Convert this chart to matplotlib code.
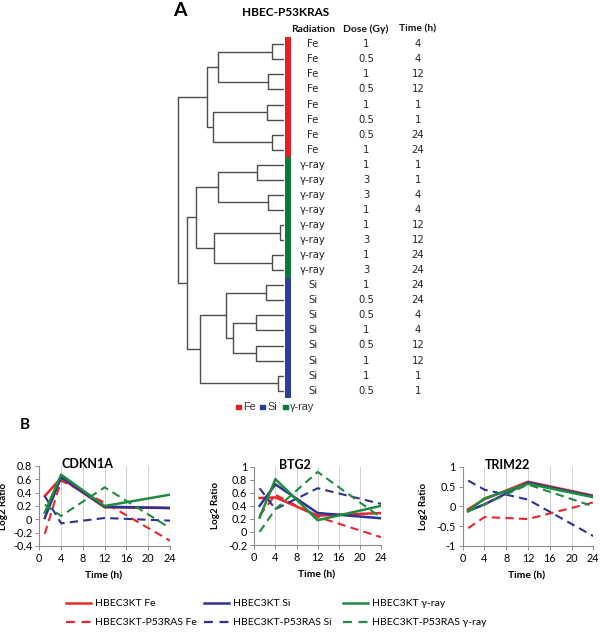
import matplotlib
matplotlib.use("Agg")
import matplotlib.pyplot as plt
from matplotlib.lines import Line2D
from matplotlib.patches import Rectangle
from matplotlib.transforms import blended_transform_factory

# ---------------- Panel A data ----------------
leaf_radiation = ['Fe'] * 8 + ['γ-ray'] * 8 + ['Si'] * 8
leaf_dose = ['1', '0.5', '1', '0.5', '1', '0.5', '0.5', '1',
             '1', '3', '3', '1', '1', '3', '1', '3',
             '1', '0.5', '0.5', '1', '0.5', '1', '1', '0.5']
leaf_time = ['4', '4', '12', '12', '1', '1', '24', '24',
             '1', '1', '4', '4', '12', '12', '24', '24',
             '24', '24', '4', '4', '12', '12', '1', '1']
# linkage: (left id, right id, merge height); ids >= 24 are earlier merges
link_left = [0, 2, 24, 4, 6, 27, 26, 8, 10, 31, 12, 14, 34, 33, 16, 18, 20, 39, 38, 22, 42, 37, 30]
link_right = [1, 3, 25, 5, 7, 28, 29, 9, 11, 32, 13, 15, 35, 36, 17, 19, 21, 40, 41, 23, 43, 44, 45]
link_height = [12.3, 16.3, 65.7, 17.3, 11.7, 70.7, 76.7, 27.3, 15.7, 65.7, 4.0, 12.3, 69.7, 88.0,
               18.3, 28.3, 28.3, 50.7, 58.3, 6.3, 84.0, 97.3, 105.7]

rad_colors = {'Fe': '#E31E24', 'Si': '#2E3C9C', 'γ-ray': '#0B7A3E'}
key_labels = ['Fe', 'Si', 'γ-ray']

# ---------------- Panel B data ----------------
times = [1, 4, 12, 24]
genes = ['CDKN1A', 'BTG2', 'TRIM22']
series_labels = ['HBEC3KT Fe', 'HBEC3KT-P53RAS Fe', 'HBEC3KT Si', 'HBEC3KT-P53RAS Si',
                 'HBEC3KT γ-ray', 'HBEC3KT-P53RAS γ-ray']

cdkn1a_vals = [
    [0.35, 0.62, 0.18, 0.17],    # HBEC3KT Fe
    [-0.22, 0.58, 0.25, -0.32],  # P53RAS Fe
    [0.02, 0.63, 0.19, 0.17],    # HBEC3KT Si
    [0.35, -0.06, 0.02, -0.02],  # P53RAS Si
    [0.10, 0.67, 0.20, 0.37],    # HBEC3KT g
    [0.22, 0.05, 0.48, -0.13],   # P53RAS g
]
btg2_vals = [
    [0.52, 0.53, 0.25, 0.29],
    [0.25, 0.57, 0.23, -0.08],
    [0.40, 0.73, 0.29, 0.21],
    [0.67, 0.35, 0.67, 0.43],
    [0.22, 0.81, 0.18, 0.40],
    [0.00, 0.35, 0.92, 0.22],
]
trim22_vals = [
    [-0.07, 0.18, 0.62, 0.27],
    [-0.55, -0.27, -0.32, 0.10],
    [-0.12, 0.05, 0.60, 0.25],
    [0.65, 0.42, 0.17, -0.75],
    [-0.12, 0.20, 0.57, 0.23],
    [-0.12, 0.05, 0.55, 0.00],
]
gene_vals = [cdkn1a_vals, btg2_vals, trim22_vals]
gene_ylims = [(-0.4, 0.8), (-0.2, 1.0), (-1.0, 1.0)]
gene_yticks = [[-0.4, -0.2, 0, 0.2, 0.4, 0.6, 0.8],
               [-0.2, 0, 0.2, 0.4, 0.6, 0.8, 1],
               [-1, -0.5, 0, 0.5, 1]]
gene_yticklabels = [['-0.4', '-0.2', '0', '0.2', '0.4', '0.6', '0.8'],
                    ['-0.2', '0', '0.2', '0.4', '0.6', '0.8', '1'],
                    ['-1', '-0.5', '0', '0.5', '1']]
xticks = [0, 4, 8, 12, 16, 20, 24]

series_colors = ['#E8262B', '#E8262B', '#2E3192', '#2E3192', '#1E8B3E', '#1E8B3E']
series_dashed = [False, True, False, True, False, True]

# ---------------- Figure ----------------
W, H = 600, 639
fig = plt.figure(figsize=(6, 6.39), dpi=100)


def rect(l, t, r, b):
    return [l / W, 1 - b / H, (r - l) / W, (b - t) / H]


# ---- dendrogram ----
row0, rowstep = 44.3, 15.06
top_px = row0 - 0.5 * rowstep
bot_px = row0 + 23.5 * rowstep
axd = fig.add_axes(rect(170, top_px, 284, bot_px))
axd.set_xlim(114, 0)
axd.set_ylim(23.5, -0.5)
axd.axis('off')

pos = {i: float(i) for i in range(24)}
hgt = {i: 0.0 for i in range(24)}
for k, (a, b, h) in enumerate(zip(link_left, link_right, link_height)):
    cid = 24 + k
    ya, yb = pos[a], pos[b]
    axd.plot([hgt[a], h, h, hgt[b]], [ya, ya, yb, yb], color='#4d4d4d', lw=1.0,
             solid_capstyle='butt')
    pos[cid] = (ya + yb) / 2
    hgt[cid] = h

# ---- colour bar ----
axb = fig.add_axes(rect(285, top_px, 291, bot_px))
axb.set_xlim(0, 1)
axb.set_ylim(23.5, -0.5)
axb.axis('off')
for i, r in enumerate(leaf_radiation):
    axb.barh(i, 1, height=1.0, color=rad_colors[r], edgecolor='none')

tr = blended_transform_factory(fig.transFigure, axb.transData)
for i in range(24):
    axb.text(313 / W, i, leaf_radiation[i], transform=tr, ha='center', va='center',
             fontsize=7.2, family='DejaVu Sans', color='#222222')
    axb.text(366 / W, i, leaf_dose[i], transform=tr, ha='center', va='center',
             fontsize=7.2, family='DejaVu Sans', color='#222222')
    axb.text(418 / W, i, leaf_time[i], transform=tr, ha='center', va='center',
             fontsize=7.2, family='DejaVu Sans', color='#222222')
for xh, lab in zip([313, 366, 418], ['Radiation', 'Dose (Gy)', 'Time (h)']):
    axb.text(xh / W, -1.0, lab, transform=tr, ha='center', va='center',
             fontsize=7.5, family='Lato', fontweight='bold', color='#111111')

fig.text(286 / W, 1 - 12 / H, 'HBEC-P53KRAS', ha='center', va='center',
         fontsize=8.5, family='Lato', fontweight='bold')
fig.text(180 / W, 1 - 10 / H, 'A', ha='center', va='center',
         fontsize=14, family='Lato', fontweight='bold')

# small colour key
key_sq_x = [236, 260, 283]
for lab, xk in zip(key_labels, key_sq_x):
    fig.patches.append(Rectangle((xk / W, 1 - 409 / H), 4.5 / W, 4.5 / H,
                                 transform=fig.transFigure, color=rad_colors[lab], zorder=3))
    fig.text((xk + 7) / W, 1 - 407 / H, lab, ha='left', va='center', fontsize=7.8,
             color='#333333', family='Liberation Sans')

fig.text(25 / W, 1 - 425 / H, 'B', ha='center', va='center',
         fontsize=11, family='Lato', fontweight='bold')

# ---- line charts ----
ax_rects = [(39.3, 466, 170, 546), (254.3, 466.7, 381, 545), (462.7, 466.7, 593.3, 546)]
title_frac = [0.37, 0.32, 0.34]
lines_for_legend = None
for g, gname in enumerate(genes):
    ax = fig.add_axes(rect(*ax_rects[g]))
    ax.set_xlim(0, 24)
    ax.set_ylim(*gene_ylims[g])
    ax.set_xticks(xticks)
    ax.set_xticklabels([str(t) for t in xticks])
    ax.set_yticks(gene_yticks[g])
    ax.set_yticklabels(gene_yticklabels[g])
    ax.grid(axis='x', color='#c8c8c8', lw=0.6)
    ax.set_axisbelow(True)
    for s in ['top', 'right']:
        ax.spines[s].set_visible(False)
    for s in ['left', 'bottom']:
        ax.spines[s].set_color('#8c8c8c')
        ax.spines[s].set_linewidth(0.8)
    ax.tick_params(axis='both', length=3, width=0.7, color='#8c8c8c', labelsize=7.8, pad=2)
    for lab in ax.get_xticklabels() + ax.get_yticklabels():
        lab.set_family('Lato')
    handles = []
    for k, vals in enumerate(gene_vals[g]):
        if series_dashed[k]:
            ln, = ax.plot(times, vals, color=series_colors[k], lw=1.5, linestyle=(0, (4, 2.5)),
                          label=series_labels[k])
        else:
            ln, = ax.plot(times, vals, color=series_colors[k], lw=1.8, label=series_labels[k])
        handles.append(ln)
    if lines_for_legend is None:
        lines_for_legend = handles
    ax.text(title_frac[g], 1.02, gname, transform=ax.transAxes, ha='center', va='center',
            fontsize=9, family='Lato', fontweight='bold')
    ax.set_xlabel('Time (h)', fontsize=7.5, family='Lato', fontweight='bold')
    ax.xaxis.set_label_coords(0.49, -0.32)
    ax.set_ylabel('Log2 Ratio', fontsize=7, family='Lato', fontweight='bold')
    ylx = [(8 - 39.3) / 130.7, (220 - 254.3) / 126.7, (428 - 462.7) / 130.6][g]
    ax.yaxis.set_label_coords(ylx, 0.5)

# ---- bottom legend: three columns ----
col_x = [66, 204, 343]
for c in range(3):
    hs = [lines_for_legend[2 * c], lines_for_legend[2 * c + 1]]
    hl = []
    for h, dashed in zip(hs, [series_dashed[2 * c], series_dashed[2 * c + 1]]):
        if dashed:
            hl.append(Line2D([0], [0], color=h.get_color(), lw=1.6, linestyle=(0, (4, 3))))
        else:
            hl.append(Line2D([0], [0], color=h.get_color(), lw=1.8))
    fig.legend(hl, [series_labels[2 * c], series_labels[2 * c + 1]], loc='upper left',
               bbox_to_anchor=(col_x[c] / W, 1 - 599 / H), frameon=False,
               prop={'family': 'Lato', 'size': 7.5}, handlelength=2.4, handletextpad=0.35,
               labelspacing=0.95, borderpad=0, borderaxespad=0)

fig.savefig('out.png', dpi=100)
